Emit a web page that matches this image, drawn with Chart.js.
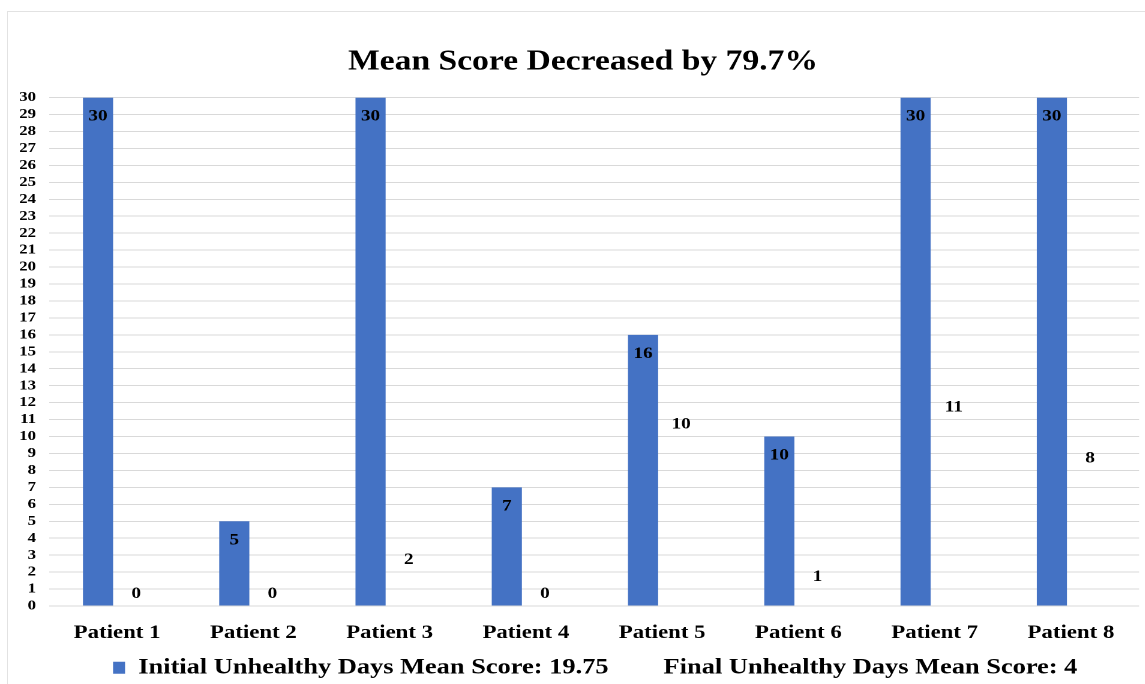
<!DOCTYPE html>
<html>
<head>
<meta charset="utf-8">
<script src="https://cdn.jsdelivr.net/npm/chart.js@4/dist/chart.umd.min.js"></script>
<style>
    html, body { margin: 0; padding: 0; background: #fff; overflow: hidden; }
    #frame {
        position: absolute; left: 7px; top: 11px; width: 1200px; height: 700px;
        border-left: 1px solid #e2e2e2; border-top: 1px solid #e2e2e2;
    }
    /* the reference is a horizontally stretched picture, so the canvas is stretched too */
    #wrap {
        position: absolute; left: 0; top: 0; width: 955px; height: 684px;
        transform: scaleX(1.2); transform-origin: 0 0;
    }
</style>
</head>
<body>
<div id="frame"></div>
<div id="wrap"><canvas id="chart"></canvas></div>
<script>
let patients = ['Patient 1', 'Patient 2', 'Patient 3', 'Patient 4', 'Patient 5', 'Patient 6', 'Patient 7', 'Patient 8'];
let initialScores = [30, 5, 30, 7, 16, 10, 30, 30];
let finalScores = [0, 0, 2, 0, 10, 1, 11, 8];
let initialLabel = 'Initial Unhealthy Days Mean Score: 19.75';
let finalLabel = 'Final Unhealthy Days Mean Score: 4';
let chartTitle = 'Mean Score Decreased by 79.7%';

const serif = '"Liberation Serif", "Times New Roman", serif';

// Value labels: inside the top of the blue bars, above the (invisible) final bars
const valueLabels = {
    id: 'valueLabels',
    afterDatasetsDraw(chart) {
        let ctx = chart.ctx;
        ctx.save();
        ctx.font = 'bold 16px ' + serif;
        ctx.fillStyle = '#000';
        ctx.textAlign = 'center';
        ctx.textBaseline = 'middle';
        chart.data.datasets.forEach((ds, i) => {
            chart.getDatasetMeta(i).data.forEach((bar, j) => {
                let y = i === 0 ? bar.y + 19 : bar.y - 12;
                ctx.fillText(String(ds.data[j]), bar.x, y);
            });
        });
        ctx.restore();
    }
};

// small nudges of the title and legend boxes after layout
const nudgeBoxes = {
    id: 'nudgeBoxes',
    afterLayout(chart) {
        let lg = chart.legend;
        lg.left += 15; lg.right += 15;
        lg.top -= 10.5; lg.bottom -= 10.5;
        let tb = chart.titleBlock;
        tb.left += 4.8; tb.right += 4.8;
        tb.top += 1.5; tb.bottom += 1.5;
    }
};

new Chart(document.getElementById('chart'), {
    type: 'bar',
    data: {
        labels: patients,
        datasets: [
            {
                label: initialLabel,
                data: initialScores,
                backgroundColor: '#4472C4',
                categoryPercentage: 0.56,
                barPercentage: 0.79
            },
            {
                label: finalLabel,
                data: finalScores,
                backgroundColor: 'rgba(0,0,0,0)',
                categoryPercentage: 0.56,
                barPercentage: 0.79
            }
        ]
    },
    options: {
        responsive: true,
        maintainAspectRatio: false,
        animation: false,
        devicePixelRatio: 2,
        layout: { padding: { top: 0, left: 12.8, right: 5.8, bottom: -15.2 } },
        plugins: {
            title: {
                display: true,
                text: chartTitle,
                color: '#000',
                font: { family: serif, size: 28, weight: 'bold' },
                padding: { top: 44, bottom: 20 }
            },
            legend: {
                position: 'bottom',
                labels: {
                    color: '#000',
                    font: { family: serif, size: 22, weight: 'bold' },
                    boxWidth: 10,
                    boxHeight: 12,
                    padding: 24.8
                }
            },
            tooltip: { enabled: false }
        },
        scales: {
            x: {
                grid: { display: false, drawTicks: false },
                border: { display: false },
                ticks: {
                    color: '#000',
                    padding: 15.6,
                    font: { family: serif, size: 19, weight: 'bold' }
                },
                afterFit: (scale) => { scale.height = 36.4; }
            },
            y: {
                min: 0,
                max: 30,
                grid: { color: '#d9d9d9', drawTicks: false },
                border: { display: false },
                ticks: {
                    stepSize: 1,
                    autoSkip: false,
                    color: '#000',
                    padding: 10.8,
                    font: { family: serif, size: 14, weight: 'bold' }
                },
                afterFit: (scale) => { scale.width = 28; }
            }
        }
    },
    plugins: [valueLabels, nudgeBoxes]
});
</script>
</body>
</html>
